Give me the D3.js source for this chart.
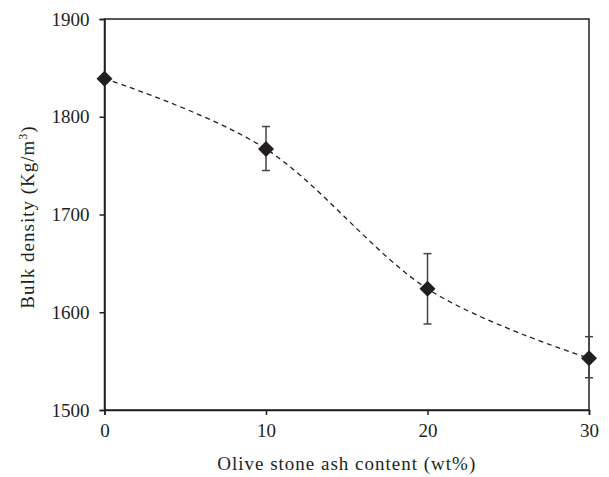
<!DOCTYPE html>
<html><head><meta charset="utf-8">
<script src="https://cdn.jsdelivr.net/npm/d3@7"></script>
<style>body{margin:0;background:#fff}</style>
</head><body><svg id="c" width="609" height="477"></svg>
<script>
const ashContent = [0, 10, 20, 30];
const bulkDensity = [1839, 1767, 1624, 1553];
const errUpper = [1839, 1790, 1660, 1575];
const errLower = [1839, 1745, 1588, 1533];
const xTicks = [0, 10, 20, 30];
const yTicks = [1500, 1600, 1700, 1800, 1900];

const W = 609, H = 477;
const m = {l: 104.5, r: 20, t: 19, b: 67};
const svg = d3.select("#c");
const x = d3.scaleLinear().domain([0, 30]).range([m.l, W - m.r]);
const y = d3.scaleLinear().domain([1500, 1900]).range([H - m.b, m.t]);
const col = "#231f20";
const font = "'Liberation Serif', 'Times New Roman', serif";

// frame
svg.append("rect").attr("x", x(0)).attr("y", y(1900))
  .attr("width", x(30) - x(0)).attr("height", y(1500) - y(1900))
  .attr("fill", "none").attr("stroke", col).attr("stroke-width", 1.5);

const xa = svg.append("g").attr("transform", `translate(0,${y(1500)})`)
  .call(d3.axisBottom(x).tickValues(xTicks).tickSize(5).tickPadding(9).tickFormat(d3.format("d")));
const ya = svg.append("g").attr("transform", `translate(${x(0)},0)`)
  .call(d3.axisLeft(y).tickValues(yTicks).tickSize(5).tickPadding(10).tickFormat(d3.format("d")));
[xa, ya].forEach(a => {
  a.attr("font-family", null).attr("font-size", null);
  a.select(".domain").attr("stroke", col).attr("stroke-width", 1.5);
  a.selectAll(".tick line").attr("stroke", col).attr("stroke-width", 1.5);
  a.selectAll(".tick text").attr("fill", col)
    .attr("font-family", font).attr("font-size", 19);
});

// dashed smooth line
const pts = ashContent.map((d, i) => [d, bulkDensity[i]]);
svg.append("path").datum(pts)
  .attr("d", d3.line().x(d => x(d[0])).y(d => y(d[1])).curve(d3.curveCatmullRom.alpha(0)))
  .attr("fill", "none").attr("stroke", col).attr("stroke-width", 1.3)
  .attr("stroke-dasharray", "5,4");

// error bars
const eb = svg.append("g").attr("stroke", "#444").attr("stroke-width", 1.5);
ashContent.forEach((d, i) => {
  if (errUpper[i] === errLower[i]) return;
  eb.append("line").attr("x1", x(d)).attr("x2", x(d)).attr("y1", y(errUpper[i])).attr("y2", y(errLower[i]));
  [errUpper[i], errLower[i]].forEach(v => {
    eb.append("line").attr("x1", x(d) - 4).attr("x2", x(d) + 4).attr("y1", y(v)).attr("y2", y(v));
  });
});

// markers
svg.append("g").selectAll("path").data(pts).join("path")
  .attr("transform", d => `translate(${x(d[0])},${y(d[1])})`)
  .attr("d", "M0,-8L8,0L0,8L-8,0Z").attr("fill", col);

// axis titles
svg.append("text").attr("x", (x(0) + x(30)) / 2).attr("y", 470)
  .attr("text-anchor", "middle").attr("fill", col)
  .attr("font-family", font).attr("font-size", 19).attr("letter-spacing", "1px")
  .text("Olive stone ash content (wt%)");

const yt = svg.append("text").attr("transform", `translate(34,217) rotate(-90)`)
  .attr("text-anchor", "middle").attr("fill", col)
  .attr("font-family", font).attr("font-size", 19).attr("letter-spacing", "1px");
yt.append("tspan").text("Bulk density (Kg/m");
yt.append("tspan").attr("dy", -7).attr("font-size", 12).text("3");
yt.append("tspan").attr("dy", 7).text(")");
</script></body></html>
